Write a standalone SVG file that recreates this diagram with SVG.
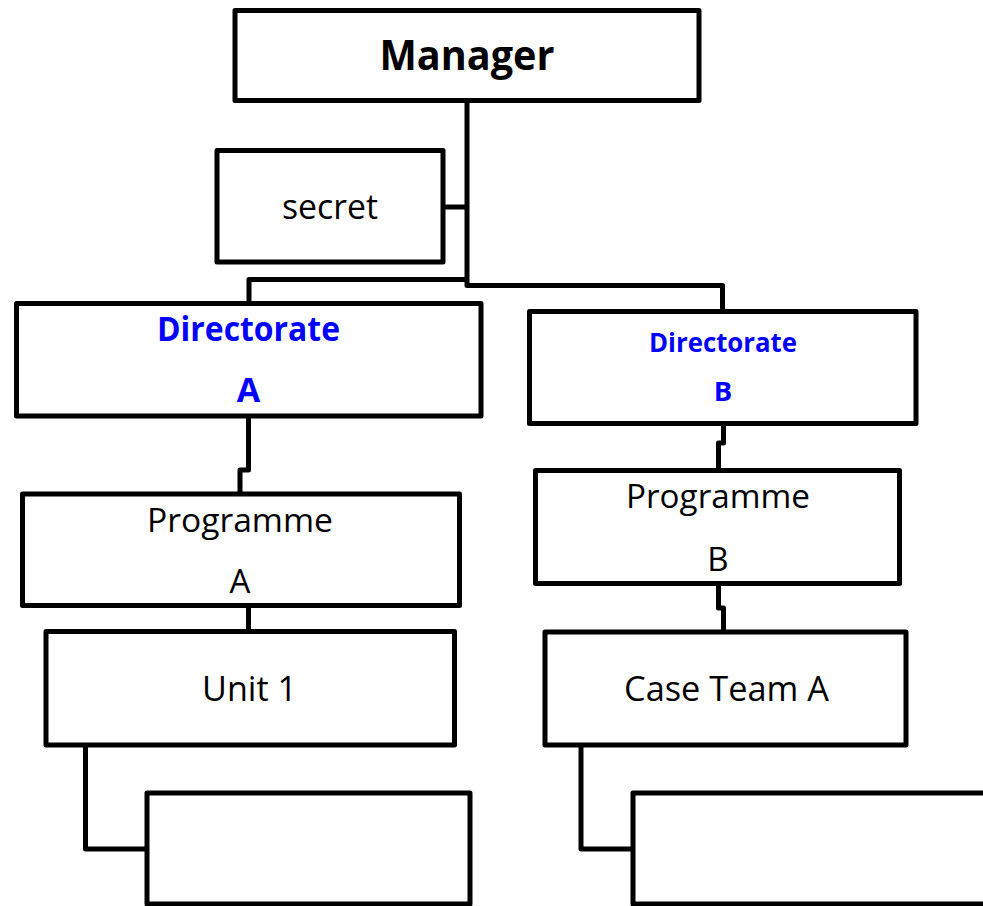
<svg xmlns="http://www.w3.org/2000/svg" width="983" height="906" viewBox="0 0 983 906">
  <style>
    .box { fill: #ffffff; stroke: #000000; stroke-width: 5; stroke-linejoin: round; }
    .link { fill: none; stroke: #000000; stroke-width: 5; stroke-linejoin: round; }
    .t { font-family: "Open Sans", "Liberation Sans", sans-serif; text-anchor: middle; fill: #000000; }
    .bold { font-weight: bold; }
    .blue { fill: #0000ff; }
  </style>
  <rect x="0" y="0" width="983" height="906" fill="#ffffff"/>

  <!-- connectors -->
  <g id="connectors">
    <path class="link" d="M467,101 V285.5 H722.5 V311.5"/>
    <path class="link" d="M467,279.5 H249 V303.5"/>
    <path class="link" d="M443,207 H467"/>
    <path class="link" d="M248.5,416 V470 H240 V494"/>
    <path class="link" d="M723.5,423.5 V443 H718.5 V470.5"/>
    <path class="link" d="M718.5,583.5 V608 H723.5 V632"/>
    <path class="link" d="M248.5,605.5 V631.5"/>
    <path class="link" d="M85.5,745 V849 H147"/>
    <path class="link" d="M581,745 V849 H633"/>
  </g>

  <g id="manager">
    <rect class="box" x="235" y="10.5" width="464" height="90"/>
    <text class="t bold" x="467" y="70" font-size="41" textLength="175" lengthAdjust="spacingAndGlyphs">Manager</text>
  </g>

  <g id="secret">
    <rect class="box" x="217" y="150.5" width="226" height="111.5"/>
    <text class="t" x="330" y="219" font-size="34" textLength="96" lengthAdjust="spacingAndGlyphs">secret</text>
  </g>

  <g id="directorate-a">
    <rect class="box" x="16.5" y="303.5" width="464.5" height="112.5"/>
    <text class="t bold blue" x="248.5" y="341" font-size="34" textLength="183" lengthAdjust="spacingAndGlyphs">Directorate</text>
    <text class="t bold blue" x="248.5" y="402" font-size="34">A</text>
  </g>

  <g id="directorate-b">
    <rect class="box" x="529.5" y="311.5" width="386.5" height="112"/>
    <text class="t bold blue" x="723" y="352" font-size="27.5" textLength="148" lengthAdjust="spacingAndGlyphs">Directorate</text>
    <text class="t bold blue" x="723" y="401" font-size="27.5">B</text>
  </g>

  <g id="programme-a">
    <rect class="box" x="22.5" y="494" width="437" height="111.5"/>
    <text class="t" x="240" y="532" font-size="33" textLength="186" lengthAdjust="spacingAndGlyphs">Programme</text>
    <text class="t" x="240" y="593" font-size="33">A</text>
  </g>

  <g id="programme-b">
    <rect class="box" x="535.5" y="470.5" width="364" height="113"/>
    <text class="t" x="718" y="508" font-size="33" textLength="184" lengthAdjust="spacingAndGlyphs">Programme</text>
    <text class="t" x="718" y="571" font-size="33">B</text>
  </g>

  <g id="unit-1">
    <rect class="box" x="46" y="631.5" width="408.5" height="113.5"/>
    <text class="t" x="249.5" y="701" font-size="34" textLength="95" lengthAdjust="spacingAndGlyphs">Unit 1</text>
  </g>

  <g id="case-team-a">
    <rect class="box" x="545" y="632" width="361" height="113"/>
    <text class="t" x="726.5" y="701" font-size="34" textLength="205" lengthAdjust="spacingAndGlyphs">Case Team A</text>
  </g>

  <g id="unit-1-child">
    <rect class="box" x="147" y="793" width="323" height="111"/>
  </g>

  <g id="case-team-a-child">
    <rect class="box" x="633" y="793" width="380" height="111"/>
  </g>
</svg>
